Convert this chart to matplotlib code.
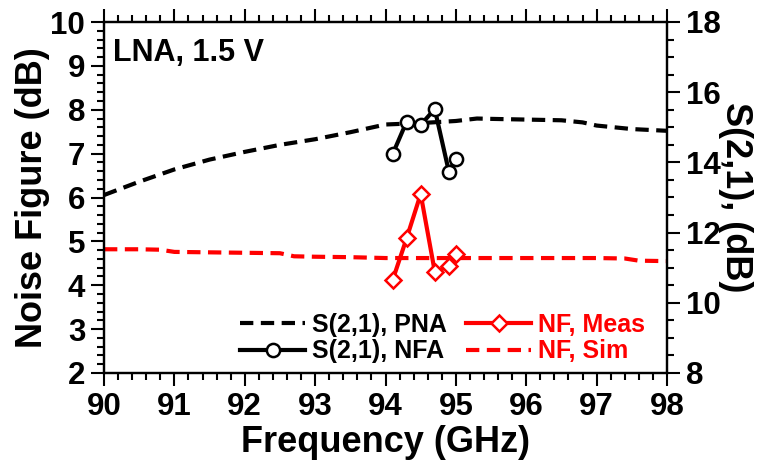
import matplotlib
matplotlib.use('Agg')
import matplotlib.pyplot as plt
from matplotlib.ticker import MultipleLocator

plt.rcParams['font.family'] = ['Liberation Sans', 'DejaVu Sans']
plt.rcParams['font.weight'] = 'bold'
plt.rcParams['axes.labelweight'] = 'bold'

# S21 from the PNA sweep (dB, right axis)
pna_freq = [90.0, 90.5, 91.0, 91.5, 92.0, 92.5, 93.0, 93.5, 94.0, 94.5,
            95.0, 95.3, 95.5, 96.0, 96.5, 96.8, 97.0, 97.5, 98.0]
pna_s21 = [13.07, 13.45, 13.80, 14.08, 14.30, 14.50, 14.66, 14.86, 15.08, 15.12,
           15.18, 15.25, 15.24, 15.22, 15.20, 15.14, 15.05, 14.95, 14.90]

# S21 (dB, right axis)
nfa_freq = [94.1, 94.3, 94.5, 94.7, 94.9, 95.0]
nfa_s21 = [14.23, 15.16, 15.07, 15.52, 13.74, 14.10]

# Measured noise figure (dB, left axis)
meas_freq = [94.1, 94.3, 94.5, 94.7, 94.9, 95.0]
meas_nf = [4.11, 5.07, 6.08, 4.31, 4.43, 4.72]

# Simulated noise figure (dB, left axis)
sim_freq = [90.0, 90.5, 90.8, 91.0, 91.5, 92.0, 92.5, 92.7, 93.0, 93.5, 94.0,
            95.0, 96.0, 97.0, 97.4, 97.6, 98.0]
sim_nf = [4.82, 4.82, 4.81, 4.76, 4.75, 4.74, 4.73, 4.66, 4.65, 4.64, 4.62,
          4.62, 4.62, 4.62, 4.61, 4.56, 4.55]

fig = plt.figure(figsize=(7.61, 4.66), dpi=100)
ax1 = fig.add_axes([104 / 761, 1 - 373 / 466, 563 / 761, 351 / 466])
ax2 = ax1.twinx()

dash = (3.2, 1.8)
red = '#ff0000'

l_sim, = ax1.plot(sim_freq, sim_nf, color=red, lw=3, dashes=dash, label='NF, Sim')
l_meas, = ax1.plot(meas_freq, meas_nf, color=red, lw=3, marker='D', ms=8.5,
                   mfc='white', mec=red, mew=1.8, label='NF, Meas')
l_pna, = ax2.plot(pna_freq, pna_s21, color='black', lw=3, dashes=dash, label='S(2,1), PNA')
l_nfa, = ax2.plot(nfa_freq, nfa_s21, color='black', lw=3, marker='o', ms=9.5,
                  mfc='white', mec='black', mew=1.8, label='S(2,1), NFA')

ax1.set_xlim(90, 98)
ax1.set_ylim(2, 10)
ax2.set_ylim(8, 18)

ax1.xaxis.set_major_locator(MultipleLocator(1))
ax1.xaxis.set_minor_locator(MultipleLocator(0.2))
ax1.yaxis.set_major_locator(MultipleLocator(1))
ax1.yaxis.set_minor_locator(MultipleLocator(0.2))
ax2.yaxis.set_major_locator(MultipleLocator(2))
ax2.yaxis.set_minor_locator(MultipleLocator(0.5))

for ax in (ax1, ax2):
    for s in ax.spines.values():
        s.set_linewidth(1.6)
ax1.tick_params(axis='both', which='both', direction='out', width=1.5,
                labelsize=22.5, top=True, pad=4)
ax1.tick_params(which='major', length=9.5)
ax1.tick_params(which='minor', length=5)
ax2.tick_params(axis='y', which='both', direction='out', width=1.5, labelsize=22.5, pad=4)
ax2.tick_params(which='major', length=9.5)
ax2.tick_params(which='minor', length=5)

ax1.set_xlabel('Frequency (GHz)', fontsize=26, labelpad=2)
ax1.set_ylabel('Noise Figure (dB)', fontsize=26, labelpad=0)
ax2.set_ylabel('S(2,1), (dB)', fontsize=26, rotation=270, labelpad=23)

ax1.text(0.016, 0.955, 'LNA, 1.5 V', transform=ax1.transAxes, fontsize=22,
         va='top', ha='left')

ax2.legend([l_pna, l_nfa, l_meas, l_sim],
           ['S(2,1), PNA', 'S(2,1), NFA', 'NF, Meas', 'NF, Sim'],
           ncol=2, loc='lower left', bbox_to_anchor=(0.22, -0.008),
           frameon=False, fontsize=18, labelcolor='linecolor',
           handlelength=2.6, handletextpad=0.25, columnspacing=0.8,
           labelspacing=0.1, borderpad=0)

fig.savefig('out.png', dpi=100)
